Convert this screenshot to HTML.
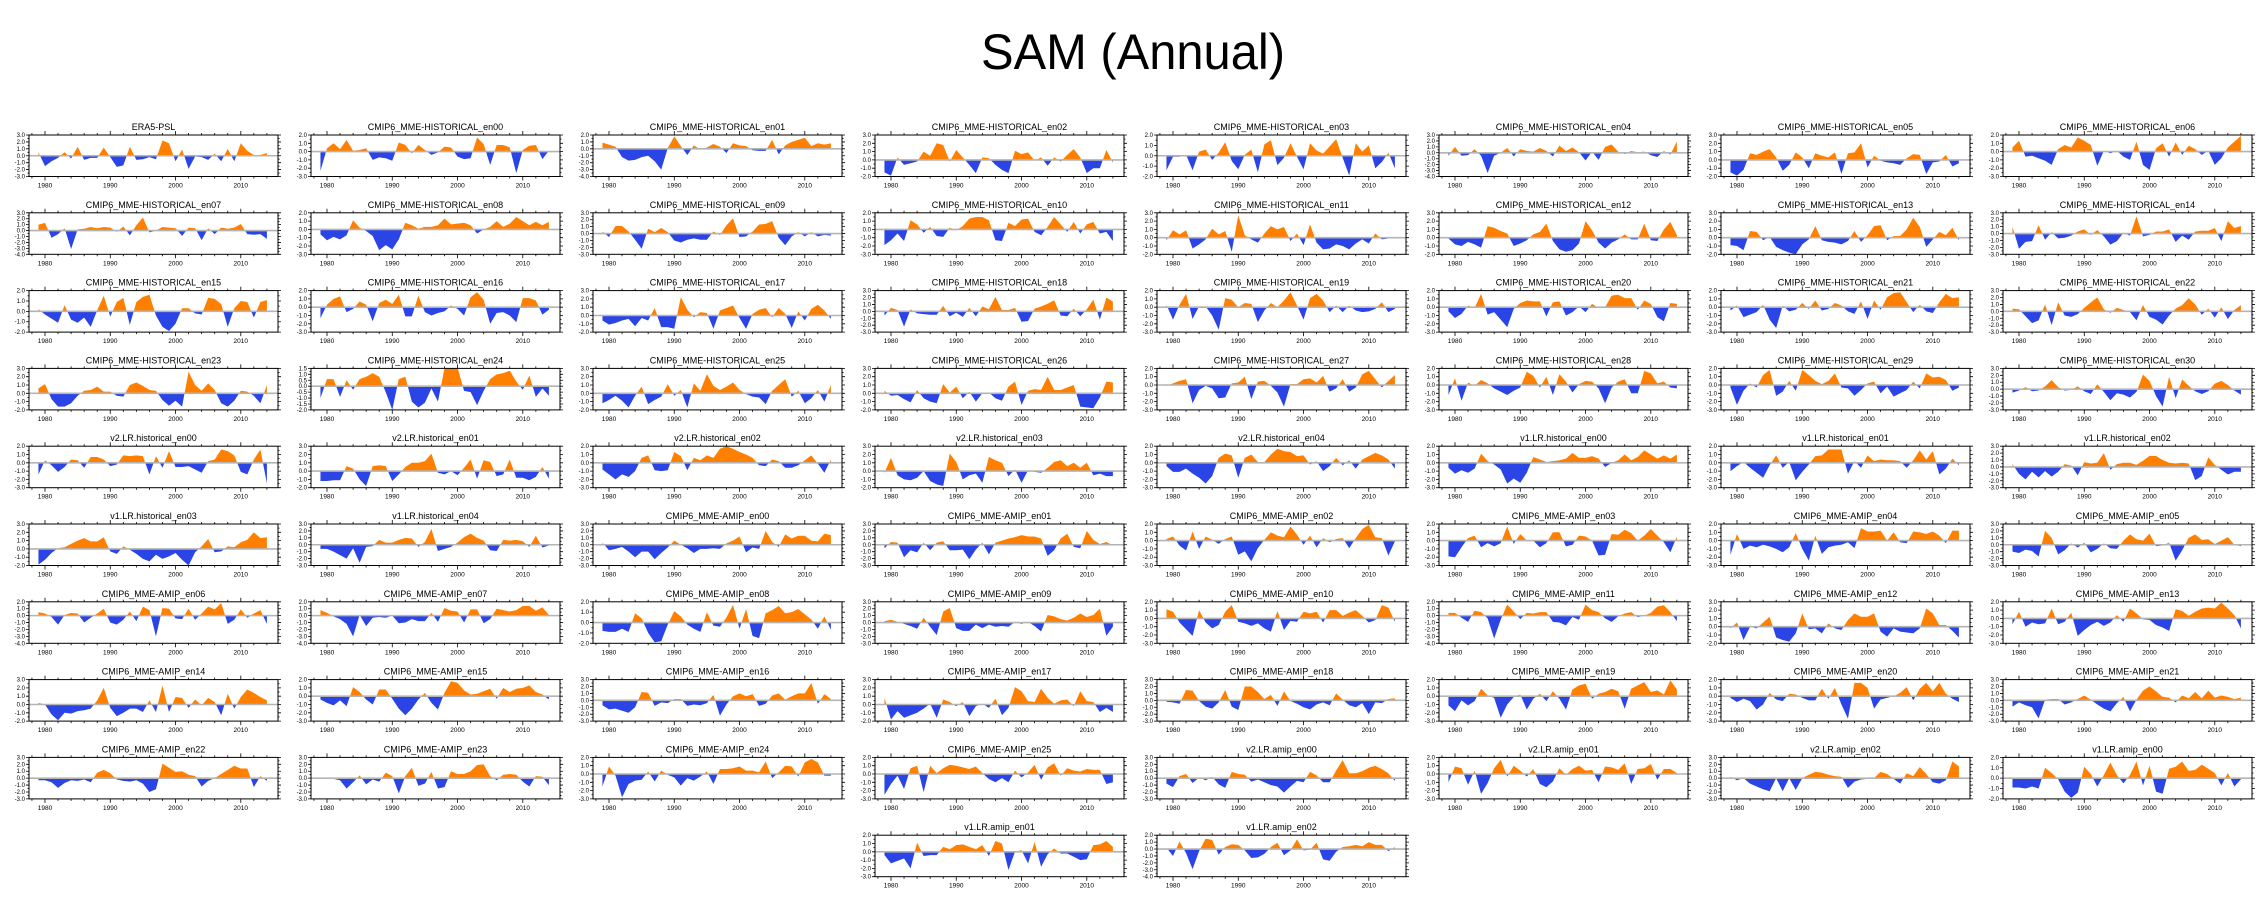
<!DOCTYPE html>
<html><head><meta charset="utf-8"><style>
html,body{margin:0;padding:0;background:#fff;}
svg{display:block;font-family:"Liberation Sans",Arial,sans-serif;}
</style></head><body>
<svg id="chart" width="2267" height="919" viewBox="0 0 2267 919" xmlns="http://www.w3.org/2000/svg">
<text x="1133" y="69" font-size="50" text-anchor="middle" textLength="304" lengthAdjust="spacingAndGlyphs">SAM (Annual)</text>
</svg>
<script>
const years = [];
for (let y = 1979; y <= 2014; y++) years.push(y);
const xTickLabels = ["1980","1990","2000","2010"];
const panelTitles = ["ERA5-PSL","CMIP6_MME-HISTORICAL_en00","CMIP6_MME-HISTORICAL_en01","CMIP6_MME-HISTORICAL_en02","CMIP6_MME-HISTORICAL_en03","CMIP6_MME-HISTORICAL_en04","CMIP6_MME-HISTORICAL_en05","CMIP6_MME-HISTORICAL_en06",
"CMIP6_MME-HISTORICAL_en07","CMIP6_MME-HISTORICAL_en08","CMIP6_MME-HISTORICAL_en09","CMIP6_MME-HISTORICAL_en10","CMIP6_MME-HISTORICAL_en11","CMIP6_MME-HISTORICAL_en12","CMIP6_MME-HISTORICAL_en13","CMIP6_MME-HISTORICAL_en14",
"CMIP6_MME-HISTORICAL_en15","CMIP6_MME-HISTORICAL_en16","CMIP6_MME-HISTORICAL_en17","CMIP6_MME-HISTORICAL_en18","CMIP6_MME-HISTORICAL_en19","CMIP6_MME-HISTORICAL_en20","CMIP6_MME-HISTORICAL_en21","CMIP6_MME-HISTORICAL_en22",
"CMIP6_MME-HISTORICAL_en23","CMIP6_MME-HISTORICAL_en24","CMIP6_MME-HISTORICAL_en25","CMIP6_MME-HISTORICAL_en26","CMIP6_MME-HISTORICAL_en27","CMIP6_MME-HISTORICAL_en28","CMIP6_MME-HISTORICAL_en29","CMIP6_MME-HISTORICAL_en30",
"v2.LR.historical_en00","v2.LR.historical_en01","v2.LR.historical_en02","v2.LR.historical_en03","v2.LR.historical_en04","v1.LR.historical_en00","v1.LR.historical_en01","v1.LR.historical_en02",
"v1.LR.historical_en03","v1.LR.historical_en04","CMIP6_MME-AMIP_en00","CMIP6_MME-AMIP_en01","CMIP6_MME-AMIP_en02","CMIP6_MME-AMIP_en03","CMIP6_MME-AMIP_en04","CMIP6_MME-AMIP_en05",
"CMIP6_MME-AMIP_en06","CMIP6_MME-AMIP_en07","CMIP6_MME-AMIP_en08","CMIP6_MME-AMIP_en09","CMIP6_MME-AMIP_en10","CMIP6_MME-AMIP_en11","CMIP6_MME-AMIP_en12","CMIP6_MME-AMIP_en13",
"CMIP6_MME-AMIP_en14","CMIP6_MME-AMIP_en15","CMIP6_MME-AMIP_en16","CMIP6_MME-AMIP_en17","CMIP6_MME-AMIP_en18","CMIP6_MME-AMIP_en19","CMIP6_MME-AMIP_en20","CMIP6_MME-AMIP_en21",
"CMIP6_MME-AMIP_en22","CMIP6_MME-AMIP_en23","CMIP6_MME-AMIP_en24","CMIP6_MME-AMIP_en25","v2.LR.amip_en00","v2.LR.amip_en01","v2.LR.amip_en02","v1.LR.amip_en00",
"v1.LR.amip_en01","v1.LR.amip_en02"];
const yMax = [3,2,2,3,2,3,3,2, 3,2,3,2,3,3,3,3, 2,2,3,3,2,2,2,3, 3,1.5,3,3,2,2,2,3, 2,3,2,3,2,2,2,3, 3,3,3,3,2,2,2,3, 2,2,2,3,2,2,3,2, 3,2,3,3,3,2,2,3, 3,3,2,2,3,2,3,2, 2,2];
const yMin = [-3,-3,-4,-2,-2,-4,-2,-3, -4,-3,-3,-3,-2,-2,-2,-3, -2,-3,-2,-3,-3,-3,-3,-3, -2,-2,-2,-2,-3,-3,-3,-3, -3,-2,-3,-2,-3,-3,-3,-3, -2,-3,-3,-3,-3,-3,-3,-3, -4,-4,-2,-3,-3,-4,-2,-3, -2,-3,-3,-2,-3,-3,-3,-3, -3,-3,-3,-3,-3,-3,-3,-2, -3,-4];
const series = [
[0.5,-1.5,-0.8,-0.3,0.5,-0.4,1.3,-0.6,-0.3,-0.3,1.2,-0.2,-1.6,-1.4,1.3,-0.6,-0.5,-0.2,-0.5,2.2,1.8,-0.8,0.9,-1.9,-0.1,-0.2,-0.6,0.3,-0.8,1.0,-0.8,1.8,0.7,0.1,0.1,0.4],
[-2.3,0.4,1.0,0.3,1.4,0.1,0.2,0.4,-1.0,-0.7,-0.8,-1.1,1.1,0.8,-0.2,0.8,0.2,-0.4,-0.1,0.6,0.5,-0.6,-0.9,-0.8,1.7,0.9,-1.6,0.8,0.8,0.5,-2.6,0.2,0.7,0.8,-0.9,0.1],
[0.9,0.6,0.3,-1.2,-1.7,-1.6,-1.2,-1.0,-1.8,-3.0,0.1,1.8,0.4,-0.9,0.5,-0.1,0.2,0.7,0.3,-0.6,0.8,0.5,0.4,-0.2,-0.3,-0.3,1.3,-0.8,0.5,1.0,1.3,1.6,0.4,0.8,0.6,0.8],
[-1.5,-1.9,0.3,-0.6,-0.4,-0.2,1.0,0.5,2.0,1.8,-0.2,1.2,0.3,-0.6,-1.6,0.3,0.2,-0.6,-1.2,-1.6,1.1,0.7,0.9,-0.1,0.3,-0.7,0.3,-0.2,0.6,1.3,0.3,-1.6,-1.0,-1.0,1.2,-0.3],
[-1.4,-0.1,-0.1,0.1,-1.4,0.4,0.6,-0.4,0.3,1.3,-0.5,-1.3,0.1,0.6,-1.6,1.1,1.5,-0.9,-0.2,1.2,-0.1,-1.3,1.2,0.5,0.2,0.9,1.6,-0.2,-1.9,1.2,0.4,1.0,-1.2,-0.6,0.3,-1.2],
[-0.5,1.0,-0.5,-0.4,0.6,-0.5,-3.4,-0.5,0.0,0.8,-0.6,0.6,0.3,0.2,0.8,0.3,-0.6,1.2,0.3,0.9,0.1,-1.3,0.2,-1.2,1.0,1.4,0.2,-0.2,0.3,0.1,0.2,-0.4,-0.7,0.3,-0.3,1.9],
[-1.5,-1.9,-1.2,0.8,0.6,1.0,1.3,0.3,-1.3,-0.6,0.9,0.3,-1.0,0.8,0.5,0.3,0.9,-1.7,0.8,0.9,2.0,-0.9,0.5,-0.1,-0.3,-0.4,-0.6,0.2,0.7,0.6,-1.7,-0.3,-0.2,0.6,-0.8,-0.4],
[0.5,1.3,-0.6,-0.5,-0.8,-1.1,-1.6,0.3,0.8,0.5,1.7,1.3,0.8,-1.7,0.1,-0.2,0.1,-0.6,-1.0,1.2,-1.6,-2.2,0.4,1.0,-0.6,1.1,-0.4,0.7,0.3,-0.4,0.1,-1.6,-0.8,0.5,1.2,1.9],
[1.0,1.3,-1.2,-0.6,0.4,-3.1,0.2,0.3,0.6,0.4,0.6,0.5,-0.2,0.7,-0.8,0.9,2.2,-0.3,0.0,0.6,0.5,0.4,-0.9,0.5,0.4,-1.6,0.4,-0.6,0.5,0.3,0.5,1.1,-0.6,-0.7,-0.6,-1.4],
[-0.6,-1.3,-0.9,-1.2,-0.7,1.1,0.2,-0.2,-0.8,-2.5,-1.9,-2.4,-1.2,0.8,0.5,0.1,0.3,0.3,0.5,1.3,0.6,0.7,0.8,0.5,-0.5,0.0,0.3,1.0,0.3,0.7,1.5,1.0,0.5,0.9,0.5,0.9],
[0.3,-0.5,1.1,1.1,0.3,-0.9,-2.2,0.7,0.2,0.8,0.2,-1.0,-1.3,-0.9,-0.7,-0.9,-0.9,0.3,-0.2,1.2,2.2,-0.5,-0.4,0.3,1.3,1.4,1.8,-0.6,-1.7,-0.4,0.2,-0.4,0.2,-0.4,-0.2,-0.3],
[-1.9,-1.3,-0.5,-1.4,1.1,0.6,-0.4,0.3,-0.8,-0.9,0.2,-0.1,0.4,1.3,1.5,1.5,1.1,-1.3,-1.4,0.8,0.4,1.2,1.3,-0.3,-0.7,0.3,1.5,0.6,-0.3,0.9,-0.5,0.6,0.9,-0.5,-0.3,-1.4],
[-0.3,0.9,0.4,0.9,-1.3,-0.8,-0.2,1.1,0.4,0.8,-1.7,2.7,0.3,-0.2,-0.6,0.5,1.4,1.0,1.3,-0.4,0.5,-0.9,1.6,-0.6,-1.4,-1.3,-0.8,-1.0,-1.4,-0.7,-0.2,-0.7,0.5,-0.2,-0.1,0.0],
[-0.1,-0.8,-1.0,-0.5,-0.8,-1.2,1.4,1.2,0.8,0.5,-1.0,-0.7,-0.3,0.4,0.7,1.7,-0.4,-1.4,-1.7,-1.5,-0.7,2.0,0.9,-0.6,-1.3,-0.6,-0.2,0.4,-0.2,-0.2,1.7,-0.3,-0.4,1.0,1.9,0.3],
[-0.9,-1.0,-1.5,0.8,0.7,-0.3,0.1,-1.1,-1.5,-1.8,-2.0,-0.8,-0.2,1.4,-0.3,-0.5,-0.6,-0.8,-0.4,0.8,-0.5,0.3,1.4,1.5,-0.3,0.2,0.2,1.0,2.4,1.3,-1.1,-0.2,0.7,0.3,1.2,-0.3],
[1.0,-2.2,-1.2,-1.1,1.2,-0.9,0.2,-0.7,-0.6,-0.3,0.3,0.6,-0.2,0.5,-0.4,-1.6,-1.1,0.1,-0.3,2.5,-0.4,-0.2,0.3,0.3,0.6,-1.2,-0.3,-0.9,0.3,0.4,0.4,0.8,-1.1,1.8,0.8,1.1],
[0.2,-0.3,-0.7,-1.1,0.6,-0.8,-1.1,-0.6,-1.5,0.1,1.5,-0.5,0.9,1.3,-1.3,0.9,1.4,1.6,-0.4,-1.5,-1.9,-1.2,0.3,0.3,-0.2,-0.3,1.3,1.2,0.7,-1.5,0.3,1.0,0.9,-0.6,0.9,1.1],
[-1.3,0.3,1.0,1.3,-0.6,-0.2,0.7,0.3,-1.7,0.5,0.9,0.4,1.5,-1.1,-1.1,1.4,-0.6,-1.0,-0.7,-0.5,0.2,-0.2,-1.0,1.2,1.8,0.9,-2.0,-0.7,-0.6,-1.0,-1.8,1.1,1.1,0.8,-0.9,-0.3],
[-0.6,-1.1,-0.9,-0.6,-0.4,-1.3,-0.3,-0.6,0.9,-1.4,-1.4,-1.6,2.2,0.7,-0.2,0.4,0.3,-1.6,0.6,0.9,1.2,-0.3,-1.6,0.2,0.7,0.9,-0.2,0.9,0.2,-1.5,0.5,-0.6,0.8,1.3,0.6,-0.4],
[-0.6,0.5,0.2,-2.2,0.3,-0.3,-0.4,-0.5,-0.5,0.8,-0.7,-0.2,-0.8,0.5,-0.7,0.7,0.3,2.1,0.2,0.2,0.5,-1.5,-1.4,0.4,0.7,1.1,1.6,-0.6,-0.7,0.4,-0.7,0.3,1.7,-1.2,2.0,1.4],
[0.3,-1.5,0.3,1.6,-1.4,0.1,0.1,-1.0,-2.7,1.1,0.9,0.0,0.5,0.4,-1.8,-0.4,0.5,0.0,0.8,1.8,0.2,-1.5,1.1,1.6,0.8,-0.6,0.2,-0.6,0.2,-0.4,-0.6,-0.5,-0.2,0.6,-0.6,-0.2],
[-0.5,-1.3,-0.8,0.2,-0.1,1.6,-0.9,-0.6,-1.5,-2.4,-0.2,0.5,0.8,0.7,0.7,-1.1,0.6,0.7,-1.0,-0.6,0.1,-0.6,0.4,-0.1,0.0,1.4,1.5,1.1,1.1,-0.3,0.8,0.4,-1.2,-1.7,0.5,0.4],
[-0.4,0.2,-1.2,-0.9,-0.6,0.3,-1.5,-2.5,0.2,-0.5,-0.3,0.5,-0.2,0.8,-0.4,-0.2,0.5,0.2,-0.5,-0.8,0.7,-1.4,0.8,-0.3,1.2,1.7,1.8,0.6,-0.6,0.3,-0.5,-0.7,0.6,1.6,1.1,1.2],
[0.4,0.3,-0.7,-1.7,-1.3,1.0,-2.0,1.3,-0.6,-0.8,-0.4,0.5,1.3,2.0,0.3,-0.2,0.5,0.2,-0.1,-1.3,0.9,-0.8,-1.2,-1.9,-0.6,0.4,0.9,1.9,1.0,-0.5,0.4,-0.9,0.6,-1.1,0.2,0.9],
[0.6,1.1,-0.7,-1.6,-1.6,-1.2,-0.3,0.3,0.4,0.8,0.2,0.2,-0.3,-0.4,1.0,1.3,0.9,0.4,0.3,-0.8,-1.5,-0.9,-1.6,2.6,1.0,0.3,1.2,0.4,-1.2,-1.6,-0.9,0.3,0.2,-0.3,-1.2,1.0],
[-1.0,0.6,0.6,-0.9,0.5,-0.3,0.6,0.8,1.1,0.8,-0.5,-2.0,0.6,0.8,-1.3,-1.8,-1.4,-0.2,-1.3,1.5,1.6,1.6,-0.4,-0.5,-1.6,-0.4,0.6,1.0,1.1,1.3,0.4,-0.3,0.9,-0.9,-0.2,-0.8],
[-1.2,-0.8,-0.3,-0.9,-1.7,-0.3,0.8,-1.3,-0.8,-0.4,1.1,-0.3,0.4,-1.7,1.2,0.3,2.3,0.9,0.4,0.8,1.3,0.4,-0.1,-0.4,-0.5,-1.3,0.3,1.0,1.7,-0.4,0.3,-1.2,-0.6,0.4,-1.0,1.0],
[0.3,-0.3,-0.2,-0.7,-1.1,0.4,-0.6,-1.0,-1.2,1.1,0.1,0.8,-0.6,0.2,-1.0,0.0,0.1,-0.6,-0.9,0.8,1.4,-1.4,0.3,0.5,0.4,2.0,0.4,0.4,0.7,1.0,-1.6,-1.7,-1.8,-0.5,1.4,1.3],
[-0.1,0.2,0.5,0.7,-2.2,-0.6,-0.1,-0.4,-1.6,-1.5,0.2,0.3,1.0,-1.7,0.4,0.5,-0.1,-0.9,-2.6,0.1,0.1,0.7,0.8,0.3,1.1,-0.8,-0.4,0.7,-0.8,-0.3,1.3,1.7,0.7,-0.3,0.5,1.2],
[-1.2,0.8,-1.9,0.3,-0.1,0.6,0.2,-0.4,-0.8,-1.2,-0.7,-0.3,1.6,1.1,-0.3,1.0,-1.2,1.3,0.4,-0.9,0.1,0.5,0.4,-0.4,-2.2,-0.3,0.4,0.7,-1.0,-1.0,1.7,1.4,0.2,0.4,-0.3,-0.4],
[-0.3,-2.4,-0.7,0.2,-0.3,1.2,1.8,-1.3,-0.8,0.5,-0.7,1.8,1.2,0.5,0.1,0.5,1.4,-0.3,-0.4,-1.3,-0.6,0.2,0.4,-1.0,-0.2,-1.4,-1.0,-0.6,0.4,-0.4,1.4,0.9,1.0,0.6,-0.7,-0.3],
[-0.5,-0.2,0.3,-0.3,-0.2,0.4,1.3,0.3,-0.2,-0.1,0.4,-0.3,-0.7,0.7,-0.4,-1.6,-0.6,-0.8,-1.2,-0.4,2.1,1.2,-1.0,-2.5,1.8,-1.3,1.4,0.5,-0.3,-0.7,-0.3,0.8,1.2,0.6,-0.2,-0.8],
[-1.4,0.3,-0.3,-1.1,-0.5,0.4,0.3,-0.6,0.7,0.7,0.4,-0.4,-0.2,0.9,0.8,0.9,0.8,-1.4,0.8,-0.6,1.4,-0.5,-0.5,-0.4,-0.8,-1.2,0.2,0.4,1.6,1.4,0.9,-1.1,-1.4,0.4,1.6,-2.5],
[-1.2,-1.2,-1.1,-1.1,0.6,0.3,-1.0,-1.8,0.6,0.7,0.6,-1.2,-0.4,0.5,1.0,1.0,1.2,2.1,-0.2,-0.4,0.0,-0.5,0.4,1.4,-0.9,1.3,1.1,-0.6,-0.4,1.4,-0.8,-0.8,-1.1,-0.7,0.5,-0.9],
[-0.8,-1.4,-2.0,-1.4,-1.7,-1.0,0.6,0.9,-0.9,-1.0,-0.9,1.3,0.8,-0.9,0.6,0.3,0.9,0.6,1.7,2.0,1.7,1.3,1.0,0.6,-0.3,-0.4,0.4,0.2,-0.6,-0.6,-0.3,0.3,0.9,-0.1,-1.2,0.4],
[-0.2,1.6,-0.5,-1.0,-1.1,-0.8,0.0,-1.2,-1.6,-1.8,2.1,1.1,-1.0,-0.5,-0.3,-1.4,1.7,1.3,1.0,-0.6,0.2,-1.4,0.1,-0.1,-0.2,0.4,1.1,1.3,0.6,1.0,0.4,1.0,-0.5,-0.3,-0.6,-0.6],
[-0.4,-1.1,-1.1,-0.7,-1.3,-1.8,-2.5,-1.6,0.6,1.1,0.9,-1.8,0.6,1.0,0.1,0.1,1.0,1.7,1.4,1.3,0.8,0.9,-0.2,0.2,-1.0,-0.4,0.6,-0.3,0.3,-0.7,0.4,0.8,1.2,0.9,0.4,-0.7],
[-0.6,-1.3,-0.9,-1.2,-0.7,1.1,0.2,-0.2,-0.8,-2.5,-1.9,-2.4,-1.2,0.7,0.4,0.1,0.2,0.3,0.5,1.2,0.6,0.6,0.8,0.5,-0.5,0.0,0.3,1.0,0.3,0.7,1.5,1.0,0.5,0.9,0.5,1.0],
[-1.0,-0.4,0.1,-0.6,-1.2,-1.8,-0.3,0.9,-0.6,0.1,-2.1,-1.1,-0.2,0.8,0.9,1.6,1.6,1.6,-1.3,0.2,-0.6,0.9,0.2,0.4,0.3,0.3,0.2,-0.6,0.3,1.5,0.4,1.4,-1.4,-0.7,0.5,-0.3],
[0.4,-1.0,-1.8,-0.7,-1.5,-0.6,-1.4,-0.7,0.4,0.2,-1.2,0.7,0.5,0.6,2.0,-0.4,0.4,0.6,0.6,0.3,0.9,1.6,1.6,1.0,0.6,0.5,0.6,0.5,-1.9,-1.3,1.4,0.3,-0.4,-1.1,-0.7,-0.7],
[-1.9,-1.3,-0.5,0.1,0.2,0.6,1.0,1.3,0.9,0.9,1.4,-0.3,-0.6,0.3,-0.1,-0.6,-1.2,-1.5,-0.7,-1.2,-0.9,-0.5,-1.3,-2.0,-0.4,0.3,1.2,-0.4,-0.3,0.3,0.2,0.8,1.1,2.0,1.3,1.4],
[-0.6,-0.6,-1.0,-1.5,-2.0,-0.5,-2.6,-0.3,-0.2,0.7,0.3,0.3,0.7,1.0,0.9,-0.3,0.4,2.3,-0.9,-0.6,-0.3,0.3,1.1,1.6,1.0,0.6,-0.8,-0.9,0.7,0.6,0.7,0.5,-0.3,1.3,-0.4,-0.1],
[0.3,-0.8,-0.6,-0.3,-1.0,-1.8,-1.0,-1.0,-2.1,-1.2,-0.4,0.6,0.0,-0.5,-1.2,-0.6,-0.6,-0.5,-0.6,0.2,0.6,1.2,-1.1,-0.4,-0.6,2.0,0.4,-0.3,1.5,0.9,1.3,1.3,0.6,0.5,1.6,1.4],
[-0.5,0.4,0.3,-1.8,-0.8,-1.1,0.3,-0.8,0.3,0.5,-0.8,-0.8,-0.7,-2.1,-0.7,0.3,-1.4,0.3,0.6,0.9,1.1,1.4,1.2,1.2,0.9,-1.6,-0.8,0.9,1.6,-0.3,-0.5,2.0,0.7,0.1,0.4,-0.1],
[0.2,0.5,-0.6,-1.2,1.1,-1.0,0.5,0.1,-0.4,0.2,0.5,-1.7,-1.3,-2.5,-0.9,0.1,1.0,0.6,0.4,1.7,0.7,-0.5,0.6,-0.8,0.3,-0.2,0.2,0.3,-0.9,0.3,1.4,1.9,0.4,0.3,-1.8,-0.1],
[-1.9,-2.0,-0.8,0.3,0.6,-0.8,-0.3,-0.7,-0.3,1.7,-0.4,0.8,0.0,0.0,-0.8,-0.3,1.0,1.0,-0.7,-0.5,0.6,0.5,0.0,-1.8,-1.7,0.8,0.7,1.3,0.9,0.0,0.6,1.4,0.6,-0.2,-1.4,0.5],
[-1.7,0.8,-1.0,-0.6,-0.8,-0.5,-0.7,-1.0,-1.4,-0.8,0.9,-1.0,-2.4,0.6,-1.6,-0.8,-0.6,-0.5,-0.2,-0.9,1.5,1.1,1.1,1.2,0.0,1.0,-0.2,-0.3,1.1,1.0,0.8,1.1,0.6,-0.3,1.2,1.2],
[-1.0,-1.2,-0.7,-0.9,-1.7,2.0,1.0,-1.4,-0.8,0.2,-0.4,0.3,-1.1,-0.6,0.2,-0.5,-0.6,0.6,1.5,0.8,0.6,1.6,-0.2,-0.1,0.3,-2.3,-0.8,1.0,1.5,0.7,0.8,0.1,0.6,1.1,0.0,-0.2],
[0.5,0.3,-0.2,-1.3,0.1,0.4,0.3,-1.0,-0.3,0.3,1.0,-1.0,-1.3,-0.6,0.6,-0.8,1.3,0.8,-3.0,1.1,1.0,-0.4,-0.5,1.0,-0.6,0.3,1.3,0.9,1.8,-1.2,-0.6,0.9,-0.3,0.3,0.8,-1.2],
[0.8,0.4,-0.1,-0.5,-1.2,-3.0,0.1,-1.5,-0.3,-0.2,-0.3,0.0,-1.1,-1.0,-0.5,-0.8,-0.8,0.4,-0.9,1.1,0.7,0.6,-1.0,0.9,0.9,-1.1,-0.5,1.0,0.8,0.6,0.8,1.4,1.4,0.7,1.2,0.1],
[-0.8,-0.9,-0.9,-0.6,-0.9,0.9,0.4,-1.0,-1.9,-1.8,-0.2,1.1,0.6,-0.2,-0.6,-0.9,1.0,-0.3,-0.4,0.5,1.7,-0.6,1.3,-1.3,-1.5,0.9,1.2,1.6,0.9,1.0,1.3,0.8,0.3,-0.6,0.6,-0.7],
[0.2,0.4,0.1,-0.2,-0.5,-0.9,0.7,-0.6,-1.8,1.6,2.1,-0.8,-1.2,-1.2,-0.3,-0.8,-0.3,-0.6,-0.5,-0.6,0.1,-0.2,0.1,-0.5,-1.3,1.1,0.9,0.5,0.3,0.7,1.3,0.8,1.1,2.0,-1.9,-0.6],
[1.1,0.8,-0.5,-1.3,-2.1,1.0,-0.5,-1.2,-0.8,0.8,1.6,-0.4,-0.6,-0.9,-0.6,-1.2,-1.6,0.9,-1.4,-0.3,-0.4,0.8,0.6,0.8,-0.5,1.0,1.0,0.3,0.7,1.0,0.3,-0.5,-0.2,1.6,1.3,-0.4],
[0.4,0.4,-0.3,-0.9,0.7,0.5,-0.4,-3.3,-0.6,1.6,0.6,-0.5,0.4,0.3,0.5,0.5,-0.9,-1.0,-1.4,-0.2,-0.6,1.6,0.8,0.5,-0.4,-0.9,-0.1,0.3,0.5,-0.2,0.0,0.4,1.3,1.5,0.5,-0.8],
[-0.2,0.5,-1.6,0.0,-0.2,0.5,1.2,-1.3,-1.6,-1.8,-0.8,1.6,-0.3,-0.2,-0.8,0.4,-0.2,-0.4,0.8,1.6,1.2,1.2,1.6,-0.6,-1.2,-0.2,-0.6,-0.7,-0.8,-0.2,2.2,1.6,0.2,0.2,-0.5,-1.3],
[-0.7,0.8,-1.0,-0.5,-0.7,-0.6,1.2,-0.7,-0.4,0.7,-2.1,-1.4,-0.8,-0.4,-0.9,-0.5,0.4,-0.4,1.2,0.6,-0.1,-0.2,-0.8,-1.1,-1.5,1.1,0.9,0.3,0.8,1.2,1.3,1.2,1.9,1.2,0.4,-1.2],
[0.2,0.0,-1.2,-1.9,-1.0,-1.1,-0.8,-0.7,-0.5,0.5,2.0,-0.4,-1.4,-1.0,-0.5,-0.5,-0.9,0.5,-0.9,2.3,-0.9,0.9,0.8,-0.4,0.6,-0.1,0.8,0.3,-1.3,1.3,-0.5,0.9,1.8,1.4,0.9,0.5],
[-0.4,-0.8,-1.1,-0.5,-1.2,1.1,0.5,-0.4,-1.0,0.8,0.8,-0.3,-1.5,-2.3,-1.5,-0.4,0.4,-0.8,-1.6,0.4,1.8,1.6,0.7,0.2,0.3,0.6,0.9,-0.3,1.0,0.5,0.9,1.0,1.3,0.5,0.2,-0.4],
[-0.7,-1.3,-1.2,-1.5,-1.8,-1.0,1.2,1.1,-0.8,-0.3,-0.4,0.2,0.2,-0.8,-0.6,-0.7,-0.4,0.8,-2.2,-0.6,0.6,1.0,0.6,0.9,-0.8,-0.5,0.7,1.0,0.1,0.6,1.0,1.0,2.5,-0.5,0.9,0.2],
[0.8,-1.8,-0.8,-1.6,-1.3,-1.0,-0.5,0.1,-1.6,0.6,0.3,-0.2,0.3,-1.4,-0.2,0.1,-0.4,0.7,-1.3,-0.4,2.1,1.6,0.4,0.3,1.9,0.8,0.1,0.5,0.6,-0.2,1.6,0.4,0.3,-0.9,-0.4,-0.9],
[-0.2,-0.3,-0.5,1.5,1.4,-0.1,-0.9,-1.2,-0.3,1.5,-0.9,-1.4,2.0,2.0,1.2,0.2,0.8,-0.8,1.3,-0.1,-0.5,-1.0,-1.3,-0.6,-0.3,-0.7,1.0,0.1,-0.7,-1.0,-0.4,-2.0,-0.3,-0.4,0.2,0.3],
[-1.1,-1.8,-0.5,-1.1,-0.6,0.9,0.1,-0.2,-2.6,-1.0,-0.1,0.2,-1.6,-0.3,0.3,-0.6,0.6,-0.3,-1.6,0.8,1.3,1.5,-0.3,0.3,0.5,0.9,0.6,-1.5,0.9,1.3,1.7,0.5,0.7,0.2,1.9,0.8],
[-0.2,-0.7,-0.3,-0.6,-1.6,-1.0,0.4,-0.4,-0.6,0.3,0.2,-0.2,-0.5,-0.5,0.9,-0.3,1.0,-1.0,-2.7,1.6,1.6,1.0,-1.5,-0.4,-0.2,0.0,0.4,1.1,-0.5,0.9,1.6,0.6,1.6,0.3,-0.3,-0.7],
[-0.9,-0.3,-0.7,-1.0,-2.6,0.1,0.2,0.2,-0.6,-0.3,0.2,0.7,0.1,-0.6,-1.2,-1.6,-0.4,0.5,-1.6,0.1,1.4,2.0,1.3,0.5,0.4,-0.3,0.7,0.3,1.2,0.3,1.4,0.4,0.7,0.5,0.2,0.4],
[-0.3,-0.3,-0.6,-1.4,-0.7,-0.3,-0.4,-0.2,-0.6,0.8,1.2,0.7,-0.2,-0.4,-0.5,-0.3,-0.8,-2.0,-1.6,2.1,1.5,0.9,1.0,0.5,0.3,-1.2,-0.4,0.0,0.6,1.2,1.8,1.4,1.4,-1.3,0.3,-0.4],
[0.1,0.1,-0.1,-0.3,-1.5,-0.6,0.4,-0.9,-0.2,-0.5,0.8,0.3,-2.2,0.3,1.5,-1.1,-0.8,0.9,-1.5,-1.3,1.0,0.6,0.6,1.0,1.9,2.0,0.3,-0.3,0.5,0.6,0.5,-0.5,-1.2,0.3,0.2,-1.0],
[-1.5,0.9,-0.2,-2.8,-1.2,-0.8,-0.7,0.3,-0.9,0.4,-0.1,-0.4,-1.4,-0.5,-0.8,-0.3,0.3,-1.2,0.6,0.6,0.7,0.9,0.4,0.4,0.2,1.5,-0.5,0.2,1.0,0.9,-0.3,1.4,1.8,1.4,-0.2,-0.2],
[-2.5,-1.2,-0.2,-1.8,0.7,1.0,-2.2,1.0,0.1,0.7,1.1,1.0,0.8,0.6,0.9,0.1,-0.6,-1.0,-0.5,-1.0,0.4,-0.4,0.2,1.1,-0.7,0.8,1.3,-0.2,0.7,0.4,0.3,0.6,0.5,0.5,-1.2,-1.0],
[-0.8,-1.3,0.3,0.6,-0.7,0.1,-0.3,0.2,-0.9,-1.4,0.9,0.6,0.5,-0.5,-0.2,-0.6,-1.0,-1.2,-2.1,-1.2,-0.4,-0.6,0.9,0.4,-0.6,-0.6,1.1,2.6,0.7,0.7,1.0,1.5,1.8,1.3,0.7,-0.4],
[-1.0,0.9,0.7,-1.3,0.4,-2.4,-1.1,0.7,1.7,-0.3,1.0,0.4,-0.3,0.6,-1.2,-1.6,-0.9,0.7,-0.1,0.6,1.0,0.4,0.5,-1.0,0.9,0.8,0.5,1.3,-1.2,0.6,0.7,1.2,-0.7,0.6,0.6,0.1],
[0.2,-0.3,0.0,-0.8,-1.2,-1.6,-1.9,0.0,-1.9,0.0,-1.7,0.0,0.5,0.9,0.8,0.5,0.3,0.2,-1.4,-0.5,-0.2,-0.1,0.0,0.9,0.6,-0.1,-0.8,0.7,0.3,1.6,0.6,-0.6,-0.8,-0.3,2.4,1.7],
[-0.9,-0.9,-1.0,-0.8,-1.0,1.0,0.5,-0.1,-1.3,-1.9,-1.4,1.1,0.4,-0.8,0.3,1.5,0.3,-0.5,0.3,1.6,-0.7,1.2,-1.3,-1.5,0.9,1.1,1.6,0.7,0.8,1.3,0.9,0.5,-0.7,0.5,-0.8,-0.1],
[-0.4,-1.4,-1.1,-0.8,-2.0,1.1,-0.5,-0.4,-0.4,0.6,0.3,0.8,0.9,0.6,0.3,0.8,-0.5,1.3,1.0,-2.2,0.0,0.2,-1.4,1.2,-1.8,-0.3,0.4,-0.2,-0.2,-0.6,-1.0,-0.9,0.8,0.9,1.3,0.6],
[0.2,-1.0,1.1,-0.6,-2.9,-0.3,1.5,1.3,-0.8,0.3,0.7,0.6,-0.2,-1.3,-1.2,-0.7,0.3,0.9,-0.9,-0.2,1.4,-0.2,-0.1,0.9,-1.5,-1.7,-0.4,0.3,0.4,0.6,0.4,1.0,0.6,0.6,-0.3,0.3]
];

const NS = "http://www.w3.org/2000/svg";
const svg = document.getElementById('chart');
const PW = 249, PH = 41.5, X0 = 29, DX = 282, Y0 = 135, DY = 77.8;
const XMIN = 1977.55, XMAX = 2015.7;
function mk(tag, attrs, parent) {
  const e = document.createElementNS(NS, tag);
  for (const k in attrs) e.setAttribute(k, attrs[k]);
  parent.appendChild(e);
  return e;
}

series.forEach((vals, i) => {
  let row, col;
  if (i < 72) { row = Math.floor(i / 8); col = i % 8; }
  else { row = 9; col = i - 69; }
  const left = X0 + col * DX, top = Y0 + row * DY;
  const lo = yMin[i], hi = yMax[i];
  const xs = v => left + (v - XMIN) / (XMAX - XMIN) * PW;
  const ys = v => top + (hi - v) / (hi - lo) * PH;
  const g = mk('g', {}, svg);
  
  

  const t = mk('text', {x: left + PW / 2, y: top - 5, 'font-size': 9, 'text-anchor': 'middle', fill: '#000'}, g);
  
  
  t.textContent = panelTitles[i];

  // clip paths
  const y0p = ys(0);
  const cpA = mk('clipPath', {id: 'ca' + i}, g);
  mk('rect', {x: left, y: top, width: PW, height: y0p - top}, cpA);
  const cpB = mk('clipPath', {id: 'cb' + i}, g);
  mk('rect', {x: left, y: y0p, width: PW, height: top + PH - y0p}, cpB);
  let pts = xs(years[0]) + ',' + y0p + ' ';
  vals.forEach((v, k) => { pts += xs(years[k]).toFixed(2) + ',' + ys(v).toFixed(2) + ' '; });
  pts += xs(years[years.length - 1]) + ',' + y0p;
  const pos = mk('polygon', {points: pts, fill: '#ff8000', 'clip-path': 'url(#ca' + i + ')'}, g);
  
  
  const neg = mk('polygon', {points: pts, fill: '#2a44e6', 'clip-path': 'url(#cb' + i + ')'}, g);
  
  

  const zl = mk('line', {x1: left, x2: left + PW, y1: y0p, y2: y0p, stroke: '#b4b4b4', 'stroke-width': 1.6}, g);
  
  

  const fr = mk('rect', {x: left, y: top, width: PW, height: PH, fill: 'none', stroke: '#000', 'stroke-width': 1}, g);
  
  

  // y ticks
  const step = (hi - lo) <= 3.5 ? 0.5 : 1;
  let tk = '';
  for (let v = lo; v <= hi + 1e-6; v += step) {
    const yy = ys(v);
    tk += `M${left - 3},${yy}H${left}M${left + PW},${yy}H${left + PW + 3}`;
    const lb = mk('text', {x: left - 4, y: yy + 2, 'font-size': 6, 'text-anchor': 'end', fill: '#000'}, g);
    
    
    lb.textContent = v.toFixed(1);
  }
  for (let v = lo + step / 2; v < hi; v += step) {
    const yy = ys(v);
    tk += `M${left - 1.5},${yy}H${left}M${left + PW},${yy}H${left + PW + 1.5}`;
  }
  // x ticks
  for (let yr = 1978; yr <= 2015; yr += 1) {
    const xx = xs(yr);
    const len = yr % 10 === 0 ? 4 : (yr % 2 === 0 ? 2 : 0);
    if (len) tk += `M${xx},${top}v${-len}M${xx},${top + PH}v${len}`;
  }
  const tp = mk('path', {d: tk, stroke: '#000', 'stroke-width': 0.8, fill: 'none'}, g);
  
  
  xTickLabels.forEach(lbl => {
    const xl = mk('text', {x: xs(+lbl), y: top + PH + 11, 'font-size': 6.5, 'text-anchor': 'middle', fill: '#000'}, g);
    
    
    xl.textContent = lbl;
  });
});
</script>
</body></html>
